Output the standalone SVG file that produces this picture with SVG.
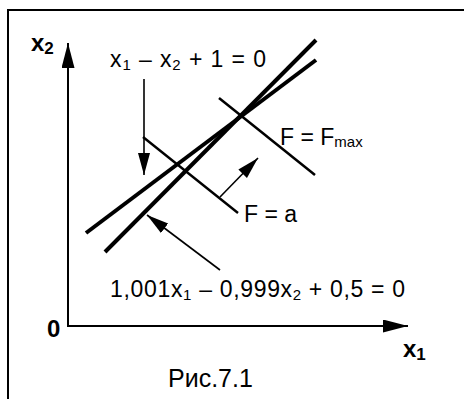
<svg xmlns="http://www.w3.org/2000/svg" width="464" height="399" viewBox="0 0 464 399">
<style>
text{font-family:"Liberation Sans",Arial,sans-serif;fill:#000}
.t{font-size:23px}
.s{font-size:15px}
.b{font-weight:bold;font-size:24px}
.bs{font-weight:bold;font-size:17px}
.thick{stroke:#000;stroke-width:4;fill:none}
.thin{stroke:#000;stroke-width:2.5;fill:none}
.ax{stroke:#000;stroke-width:2;fill:none}
.ar{stroke:#000;stroke-width:1.6;fill:none}
</style>
<defs>
<marker id="ah" markerUnits="userSpaceOnUse" markerWidth="24" markerHeight="14" refX="22" refY="6" orient="auto">
<path d="M0,0 L22,6 L0,12 Z" fill="#000"/>
</marker>
<marker id="axh" markerUnits="userSpaceOnUse" markerWidth="27" markerHeight="15" refX="25" refY="6.5" orient="auto">
<path d="M0,0 L25,6.5 L0,13 Z" fill="#000"/>
</marker>
</defs>
<rect x="8" y="10" width="470" height="400" fill="#fff" stroke="#000" stroke-width="2"/>
<g id="axes">
<line class="ax" x1="68" y1="326" x2="68" y2="43" marker-end="url(#axh)"/>
<line class="ax" x1="67" y1="326" x2="408" y2="326" marker-end="url(#axh)"/>
</g>
<g id="lines">
<line class="thick" x1="86" y1="233" x2="316" y2="60"/>
<line class="thick" x1="105" y1="252" x2="316" y2="40"/>
<line class="thin" x1="219" y1="98" x2="315" y2="175"/>
<line class="thin" x1="143" y1="137" x2="238" y2="213"/>
</g>
<g id="connectors">
<line class="ar" x1="144" y1="79" x2="144" y2="175" marker-end="url(#ah)"/>
<line class="ar" x1="220" y1="197" x2="258" y2="158" marker-end="url(#ah)"/>
<line class="ar" x1="220" y1="270" x2="147" y2="215" marker-end="url(#ah)"/>
</g>
<g id="label-x2"><text class="b" x="31" y="51">x<tspan class="bs" dy="3">2</tspan></text></g>
<g id="label-x1"><text class="b" x="403" y="357">x<tspan class="bs" dy="3">1</tspan></text></g>
<g id="label-0"><text class="b" x="47" y="337">0</text></g>
<g id="label-line1"><text class="t" x="110" y="67" textLength="156" lengthAdjust="spacing">x<tspan class="s" dy="3">1</tspan><tspan dy="-3"> – x</tspan><tspan class="s" dy="3">2</tspan><tspan dy="-3"> + 1 = 0</tspan></text></g>
<g id="label-fmax"><text class="t" x="280" y="145">F = F<tspan class="s" dy="2">max</tspan></text></g>
<g id="label-fa"><text class="t" x="244" y="222">F = a</text></g>
<g id="label-line2"><text class="t" x="110" y="297" textLength="295" lengthAdjust="spacing">1,001x<tspan class="s" dy="3">1</tspan><tspan dy="-3"> – 0,999x</tspan><tspan class="s" dy="3">2</tspan><tspan dy="-3"> + 0,5 = 0</tspan></text></g>
<g id="caption"><text x="168" y="387" style="font-size:25px">Рис.7.1</text></g>
</svg>
